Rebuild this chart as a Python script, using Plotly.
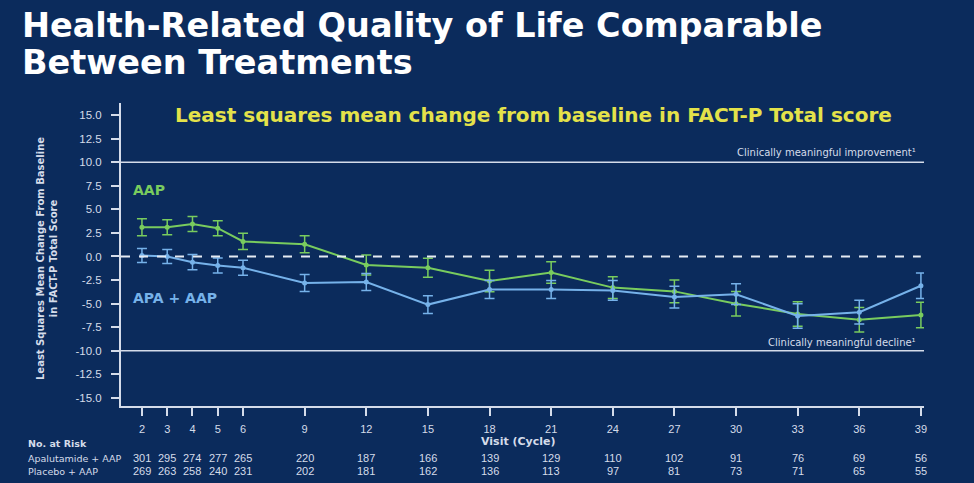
import plotly.graph_objects as go

visits = [2, 3, 4, 5, 6, 9, 12, 15, 18, 21, 24, 27, 30, 33, 36, 39]
aap_mean = [3.1, 3.1, 3.45, 3.0, 1.6, 1.3, -0.9, -1.2, -2.6, -1.7, -3.3, -3.7, -5.0, -6.1, -6.7, -6.2]
aap_err = [0.9, 0.8, 0.8, 0.8, 0.85, 0.9, 1.05, 1.0, 1.15, 1.15, 1.15, 1.2, 1.3, 1.3, 1.3, 1.35]
apa_mean = [0.1, 0.0, -0.6, -0.95, -1.2, -2.8, -2.7, -5.1, -3.5, -3.5, -3.6, -4.3, -4.0, -6.3, -5.9, -3.1]
apa_err = [0.75, 0.75, 0.8, 0.8, 0.8, 0.9, 0.9, 0.95, 0.95, 0.95, 1.05, 1.15, 1.1, 1.3, 1.25, 1.35]
risk_apa = [301, 295, 274, 277, 265, 220, 187, 166, 139, 129, 110, 102, 91, 76, 69, 56]
risk_pbo = [269, 263, 258, 240, 231, 202, 181, 162, 136, 113, 97, 81, 73, 71, 65, 55]
y_ticks = [15.0, 12.5, 10.0, 7.5, 5.0, 2.5, 0.0, -2.5, -5.0, -7.5, -10.0, -12.5, -15.0]

BG = "#0b2b5c"
GREEN = "#79cc5e"
BLUE = "#76b2ea"
AXIS = "#d5dcea"
TXT = "#d5dcea"
FONT = "Liberation Sans"
WIDE = "DejaVu Sans"

# plot area in pixels
L, R, T, B = 121, 924, 103, 406
W, H = 974, 483


def axis_pos(v):
    # the original axis is stretched for the early cycles (2-6)
    return v if v >= 6 else 6 - (6 - v) * 1.23


xpos = [axis_pos(v) for v in visits]


def px(xp):
    return (xp - L) / (R - L)


def py(yp):
    return (B - yp) / (B - T)


fig = go.Figure()

# reference lines
for yv in (10, -10):
    fig.add_shape(type="line", xref="paper", yref="y", x0=0, x1=1, y0=yv, y1=yv,
                  line=dict(color=AXIS, width=1.5))
fig.add_shape(type="line", xref="paper", yref="y", x0=0, x1=0.996, y0=0, y1=0,
              line=dict(color="#e6ebf3", width=2, dash="dash"))

fig.add_trace(go.Scatter(
    x=xpos, y=aap_mean, mode="lines+markers", name="AAP",
    line=dict(color=GREEN, width=2), marker=dict(color=GREEN, size=5),
    error_y=dict(type="data", array=aap_err, color=GREEN, thickness=1.5, width=5),
))
fig.add_trace(go.Scatter(
    x=xpos, y=apa_mean, mode="lines+markers", name="APA + AAP",
    line=dict(color=BLUE, width=2), marker=dict(color=BLUE, size=5),
    error_y=dict(type="data", array=apa_err, color=BLUE, thickness=1.5, width=5),
))

ann = []
# title (two lines placed separately to control spacing)
ann.append(dict(text="<b>Health-Related Quality of Life Comparable</b>",
                xref="paper", yref="paper", x=px(20), y=py(25), xanchor="left", yanchor="middle",
                showarrow=False, font=dict(family=WIDE, size=33.5, color="white")))
ann.append(dict(text="<b>Between Treatments</b>",
                xref="paper", yref="paper", x=px(20), y=py(62), xanchor="left", yanchor="middle",
                showarrow=False, font=dict(family=WIDE, size=33.5, color="white")))
# subtitle
ann.append(dict(text="<b>Least squares mean change from baseline in FACT-P Total score</b>",
                xref="paper", yref="paper", x=px(533), y=py(115), xanchor="center", yanchor="middle",
                showarrow=False, font=dict(family=WIDE, size=20, color="#e4e24a")))
# series labels
ann.append(dict(text="<b>AAP</b>", xref="paper", yref="paper", x=px(131), y=py(190),
                xanchor="left", yanchor="middle", showarrow=False,
                font=dict(family=WIDE, size=14, color=GREEN)))
ann.append(dict(text="<b>APA + AAP</b>", xref="paper", yref="paper", x=px(131), y=py(298),
                xanchor="left", yanchor="middle", showarrow=False,
                font=dict(family=WIDE, size=14, color=BLUE)))
# reference labels
ann.append(dict(text="Clinically meaningful improvement¹", xref="paper", yref="paper", x=px(918), y=py(152),
                xanchor="right", yanchor="middle", showarrow=False,
                font=dict(family=WIDE, size=10, color=TXT)))
ann.append(dict(text="Clinically meaningful decline¹", xref="paper", yref="paper", x=px(918), y=py(342),
                xanchor="right", yanchor="middle", showarrow=False,
                font=dict(family=WIDE, size=10, color=TXT)))
# y axis title
ann.append(dict(text="<b>Least Squares Mean Change From Baseline<br>in FACT-P Total Score</b>",
                xref="paper", yref="paper", x=px(47), y=py(259), xanchor="center", yanchor="middle",
                textangle=-90, showarrow=False, font=dict(family=WIDE, size=10, color=TXT)))
# x axis title
ann.append(dict(text="<b>Visit (Cycle)</b>", xref="paper", yref="paper", x=px(518), y=py(441),
                xanchor="center", yanchor="middle", showarrow=False,
                font=dict(family=WIDE, size=11, color=TXT)))
# risk table
ann.append(dict(text="<b>No. at Risk</b>", xref="paper", yref="paper", x=px(26), y=py(443),
                xanchor="left", yanchor="middle", showarrow=False,
                font=dict(family=WIDE, size=9.5, color=TXT)))
ann.append(dict(text="Apalutamide + AAP", xref="paper", yref="paper", x=px(26), y=py(458),
                xanchor="left", yanchor="middle", showarrow=False,
                font=dict(family=WIDE, size=9.5, color=TXT)))
ann.append(dict(text="Placebo + AAP", xref="paper", yref="paper", x=px(26), y=py(471),
                xanchor="left", yanchor="middle", showarrow=False,
                font=dict(family=WIDE, size=9.5, color=TXT)))
for xp, a, p in zip(xpos, risk_apa, risk_pbo):
    ann.append(dict(text=str(a), xref="x", yref="paper", x=xp, y=py(458), xanchor="center",
                    yanchor="middle", showarrow=False, font=dict(family=FONT, size=11, color=TXT)))
    ann.append(dict(text=str(p), xref="x", yref="paper", x=xp, y=py(471), xanchor="center",
                    yanchor="middle", showarrow=False, font=dict(family=FONT, size=11, color=TXT)))

fig.update_layout(
    width=W, height=H,
    margin=dict(l=L, r=W - R, t=T, b=H - B),
    paper_bgcolor=BG, plot_bgcolor=BG,
    showlegend=False,
    annotations=ann,
    font=dict(family=FONT, color=TXT),
)
fig.update_xaxes(
    range=[0.06, 39.15], tickmode="array", tickvals=xpos, ticktext=[str(v) for v in visits],
    showgrid=False, zeroline=False, showline=True, linecolor=AXIS, linewidth=2,
    ticks="outside", ticklen=8, tickwidth=1.5, tickcolor=AXIS, ticklabelstandoff=4,
    tickfont=dict(family=FONT, size=11, color=TXT),
)
fig.update_yaxes(
    range=[-15.85, 16.27], tickmode="array", tickvals=y_ticks,
    ticktext=[f"{v:.1f}" for v in y_ticks],
    showgrid=False, zeroline=False, showline=True, linecolor=AXIS, linewidth=2,
    ticks="outside", ticklen=8, tickwidth=1.5, tickcolor=AXIS, ticklabelstandoff=7,
    tickfont=dict(family=FONT, size=11.5, color=TXT),
)

fig.write_html("out.html")
